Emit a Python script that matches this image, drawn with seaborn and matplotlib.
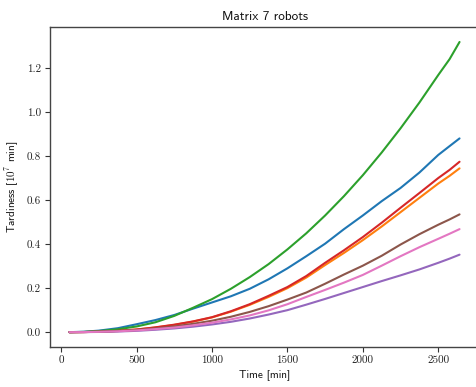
import numpy as np
import pandas as pd
import matplotlib
matplotlib.use("Agg")
import matplotlib.pyplot as plt
import seaborn as sns

# Sampled times [min]
time = [55, 150, 250, 375, 500, 625, 750, 875, 1000, 1125, 1250, 1375,
        1500, 1625, 1750, 1875, 2000, 2125, 2250, 2375, 2500, 2575, 2641]

# Cumulative tardiness per run [10^7 min]
run_0 = [0.0, 0.002, 0.007, 0.018, 0.036, 0.055, 0.078, 0.107, 0.135, 0.163,
         0.197, 0.240, 0.290, 0.345, 0.402, 0.468, 0.530, 0.595, 0.655, 0.725,
         0.805, 0.845, 0.880]
run_1 = [0.0, 0.0005, 0.002, 0.006, 0.012, 0.021, 0.033, 0.048, 0.067, 0.093,
         0.124, 0.160, 0.200, 0.248, 0.305, 0.360, 0.418, 0.480, 0.545, 0.610,
         0.675, 0.710, 0.744]
run_2 = [0.0, 0.001, 0.005, 0.013, 0.026, 0.045, 0.074, 0.111, 0.150, 0.197,
         0.250, 0.309, 0.376, 0.449, 0.530, 0.618, 0.713, 0.816, 0.926, 1.043,
         1.168, 1.240, 1.318]
run_3 = [0.0, 0.0005, 0.002, 0.006, 0.012, 0.022, 0.034, 0.049, 0.068, 0.095,
         0.127, 0.165, 0.205, 0.255, 0.315, 0.372, 0.432, 0.497, 0.565, 0.632,
         0.700, 0.737, 0.774]
run_4 = [0.0, 0.0003, 0.001, 0.003, 0.006, 0.011, 0.017, 0.025, 0.035, 0.047,
         0.062, 0.080, 0.100, 0.125, 0.151, 0.178, 0.205, 0.232, 0.258, 0.285,
         0.315, 0.334, 0.352]
run_5 = [0.0, 0.0005, 0.002, 0.005, 0.010, 0.017, 0.026, 0.038, 0.052, 0.070,
         0.092, 0.118, 0.148, 0.180, 0.220, 0.262, 0.302, 0.347, 0.398, 0.445,
         0.488, 0.512, 0.535]
run_6 = [0.0, 0.0004, 0.0015, 0.004, 0.008, 0.014, 0.021, 0.031, 0.043, 0.058,
         0.076, 0.099, 0.127, 0.160, 0.192, 0.225, 0.260, 0.302, 0.345, 0.386,
         0.424, 0.447, 0.468]

runs = [run_0, run_1, run_2, run_3, run_4, run_5, run_6]

title = "Matrix 7 robots"
xlabel = "Time [min]"
ylabel = r"Tardiness [$10^7$ min]"
xticks = [0, 500, 1000, 1500, 2000, 2500]
yticks = [0.0, 0.2, 0.4, 0.6, 0.8, 1.0, 1.2]

frames = []
for i, vals in enumerate(runs):
    frames.append(pd.DataFrame({"time": time, "tardiness": vals, "run": i}))
df = pd.concat(frames, ignore_index=True)

sns.set_theme(style="white")
plt.rcParams["font.family"] = ["cmr10", "DejaVu Sans"]
plt.rcParams["mathtext.fontset"] = "cm"
plt.rcParams["axes.formatter.use_mathtext"] = True

W, H = 476, 387
fig = plt.figure(figsize=(W / 100, H / 100), dpi=100)
# axes box: right edge runs just past the canvas
left, right, bottom, top = 50 / W, 479 / W, (H - 346.7) / H, (H - 27) / H
ax = fig.add_axes([left, bottom, right - left, top - bottom])

sns.lineplot(data=df, x="time", y="tardiness", hue="run",
             palette=sns.color_palette("tab10", 7), legend=False,
             linewidth=1.5, ax=ax)

ax.set_xlim(-74, 2770)
ax.set_ylim(-0.066, 1.386)
ax.set_xticks(xticks)
ax.set_yticks(yticks)
ax.set_xticklabels([str(t) for t in xticks])
ax.set_yticklabels([f"{t:.1f}" for t in yticks])

for side in ["left", "bottom", "top", "right"]:
    ax.spines[side].set_color("#444444")
    ax.spines[side].set_linewidth(1.0)

ax.tick_params(axis="both", which="major", direction="out", length=3.5,
               width=0.8, color="#333333", labelsize=8, labelcolor="#222222",
               bottom=True, left=True, pad=3)

ax.set_xlabel(xlabel, family=["cmss10", "DejaVu Sans"], fontsize=8,
              color="#111111", labelpad=3)
ax.set_ylabel(ylabel, family=["cmss10", "DejaVu Sans"], fontsize=8,
              color="#111111", labelpad=4)
ax.set_title(title, family=["cmss10", "DejaVu Sans"], fontsize=9.5,
             color="#111111", pad=5)

fig.savefig("out.png", dpi=100)
